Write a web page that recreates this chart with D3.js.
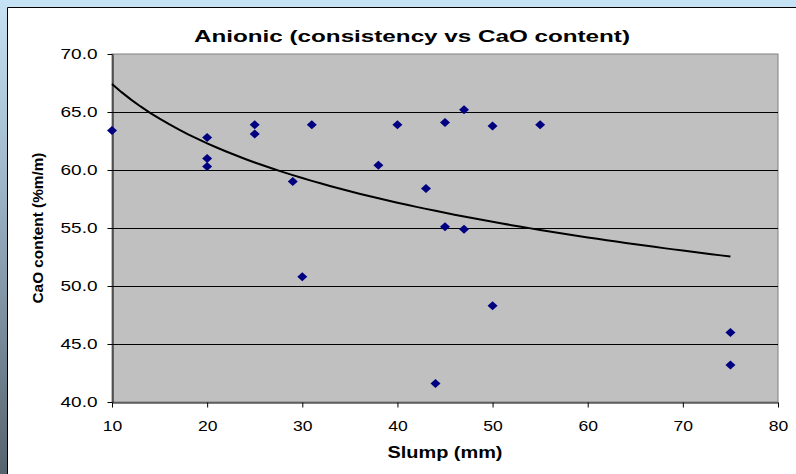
<!DOCTYPE html>
<html>
<head>
<meta charset="utf-8">
<script src="https://cdn.jsdelivr.net/npm/d3@7"></script>
<style>
  body { margin: 0; background: #fff; }
  text { font-family: "Liberation Sans", Arial, sans-serif; fill: #000; }
</style>
</head>
<body>
<div id="chart"></div>
<script>
// slump (mm) vs CaO content (%m/m)
let slump = [10, 20, 20, 20, 25, 25, 29, 30, 31, 38, 40, 43, 44, 45, 45, 47, 47, 50, 50, 55, 75, 75];
let caoContent = [63.4, 62.8, 61.0, 60.3, 63.9, 63.1, 59.0, 50.8, 63.9, 60.4, 63.9, 58.4, 41.6, 64.1, 55.1, 65.2, 54.9, 63.8, 48.3, 63.9, 46.0, 43.2];
let xTicks = [10, 20, 30, 40, 50, 60, 70, 80];
let yTicks = [40, 45, 50, 55, 60, 65, 70];

let svgWidth = 796;
let svgHeight = 474;
let plotLeft = 112, plotRight = 778, plotTop = 54, plotBottom = 402;

let svg = d3.select("#chart")
  .append("svg")
  .attr("width", svgWidth)
  .attr("height", svgHeight)

// frame: blue strip on top, gradient strip on the left
let grad = svg.append("defs").append("linearGradient")
  .attr("id", "side").attr("x1", 0).attr("y1", 0).attr("x2", 0).attr("y2", 1)
grad.append("stop").attr("offset", "0%").attr("stop-color", "#c6e2f5")
grad.append("stop").attr("offset", "40%").attr("stop-color", "#9cb4c7")
grad.append("stop").attr("offset", "100%").attr("stop-color", "#55636e")

svg.append("rect").attr("x", 0).attr("y", 0).attr("width", svgWidth).attr("height", 7).attr("fill", "#c6e2f5")
svg.append("rect").attr("x", 0).attr("y", 0).attr("width", 7).attr("height", svgHeight).attr("fill", "url(#side)")
svg.append("line").attr("x1", 7.5).attr("x2", svgWidth).attr("y1", 7.5).attr("y2", 7.5).attr("stroke", "#000")
svg.append("line").attr("x1", 7.5).attr("x2", 7.5).attr("y1", 7.5).attr("y2", svgHeight).attr("stroke", "#000")

let xScale = d3.scaleLinear().domain([10, 80]).range([plotLeft, plotRight])
let yScale = d3.scaleLinear().domain([40, 70]).range([plotBottom, plotTop])

// plot area
svg.append("rect")
  .attr("x", plotLeft).attr("y", plotTop)
  .attr("width", plotRight - plotLeft).attr("height", plotBottom - plotTop)
  .attr("fill", "#c0c0c0")
  .attr("stroke", "#808080")

// gridlines
svg.append("g")
  .selectAll("line")
  .data(yTicks.filter(d => d > 40 && d < 70))
  .enter()
  .append("line")
  .attr("x1", plotLeft).attr("x2", plotRight)
  .attr("y1", d => Math.round(yScale(d)) + 0.5)
  .attr("y2", d => Math.round(yScale(d)) + 0.5)
  .attr("stroke", "#000")

let xAxis = d3.axisBottom(xScale).tickValues(xTicks).tickSize(5).tickPadding(13).tickSizeOuter(0)
let yAxis = d3.axisLeft(yScale).tickValues(yTicks).tickSize(5).tickPadding(10).tickSizeOuter(0)
  .tickFormat(d3.format(".1f"))

let gx = svg.append("g")
  .attr("transform", `translate(0,${plotBottom + 0.5})`)
  .call(xAxis)
let gy = svg.append("g")
  .attr("transform", `translate(${plotLeft + 0.5},0)`)
  .call(yAxis)

gx.selectAll("text").attr("font-size", 15).attr("textLength", 19.5).attr("lengthAdjust", "spacingAndGlyphs")
gy.selectAll("text").attr("font-size", 15).attr("textLength", 37).attr("lengthAdjust", "spacingAndGlyphs")
svg.selectAll(".domain").attr("stroke", "#000")
svg.selectAll(".tick line").attr("stroke", "#000")
svg.selectAll(".tick text").style("font-family", "'Liberation Sans', Arial, sans-serif").attr("fill", "#000")

// logarithmic trend line fitted to the points (as in the spreadsheet)
let lx = slump.map(Math.log)
let mx = d3.mean(lx), my = d3.mean(caoContent)
let slope = d3.sum(lx, (v, i) => (v - mx) * (caoContent[i] - my)) / d3.sum(lx, v => (v - mx) * (v - mx))
let intercept = my - slope * mx
let trendX = d3.range(d3.min(slump), d3.max(slump) + 0.5, 1)

let line = d3.line()
  .x(d => xScale(d))
  .y(d => yScale(intercept + slope * Math.log(d)))

svg.append("path")
  .datum(trendX)
  .attr("d", line)
  .attr("fill", "none")
  .attr("stroke", "#000")
  .attr("stroke-width", 2)

// points
svg.append("g")
  .selectAll("path")
  .data(slump)
  .enter()
  .append("path")
  .attr("d", "M0,-4.5L5,0L0,4.5L-5,0Z")
  .attr("transform", (d, i) => `translate(${xScale(d)},${yScale(caoContent[i])})`)
  .attr("fill", "#000080")

// titles
svg.append("text")
  .attr("x", 412).attr("y", 42)
  .attr("text-anchor", "middle")
  .attr("font-size", 16).attr("font-weight", "bold")
  .attr("textLength", 436).attr("lengthAdjust", "spacingAndGlyphs")
  .text("Anionic (consistency vs CaO content)")

svg.append("text")
  .attr("x", (plotLeft + plotRight) / 2).attr("y", 458)
  .attr("text-anchor", "middle")
  .attr("font-size", 16).attr("font-weight", "bold")
  .attr("textLength", 115).attr("lengthAdjust", "spacingAndGlyphs")
  .text("Slump (mm)")

svg.append("text")
  .attr("transform", `translate(43,${(plotTop + plotBottom) / 2}) rotate(-90)`)
  .attr("text-anchor", "middle")
  .attr("font-size", 14).attr("font-weight", "bold")
  .attr("textLength", 151).attr("lengthAdjust", "spacingAndGlyphs")
  .text("CaO content (%m/m)")
</script>
</body>
</html>
